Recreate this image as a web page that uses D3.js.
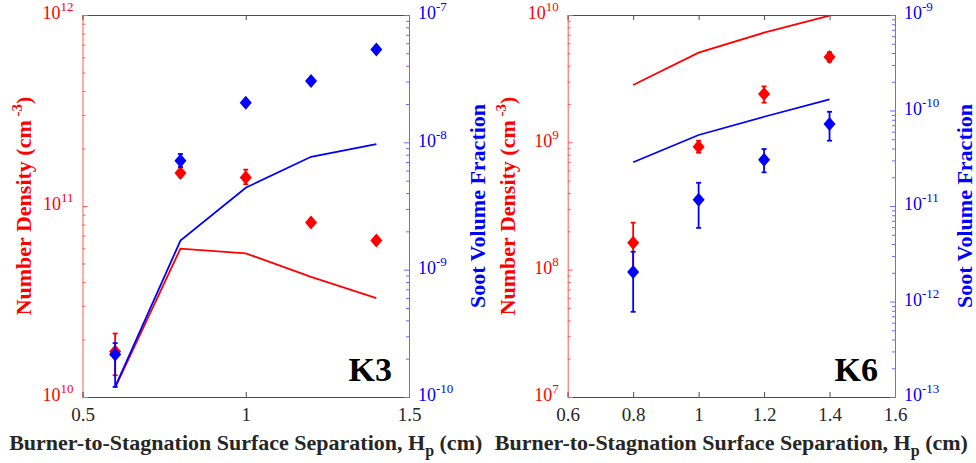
<!DOCTYPE html>
<html>
<head>
<meta charset="utf-8">
<script src="https://cdn.jsdelivr.net/npm/d3@7"></script>
<style>
  body { margin: 0; background: #fff; }
  svg text { font-family: "Liberation Serif", "Times New Roman", serif; }
</style>
</head>
<body>
<div id="chart"></div>
<script>
var canvasWidth = 976;
var canvasHeight = 463;

/*K3 flame data*/
var xK3 = [0.6, 0.8, 1.0, 1.2, 1.4];
var k3NumExp = [1.73e10, 1.49e11, 1.41e11, 8.2e10, 6.6e10];
var k3NumLo = [1.3e10, 1.42e11, 1.3e11, 7.9e10, 6.4e10];
var k3NumHi = [2.15e10, 1.6e11, 1.55e11, 8.5e10, 6.8e10];
var k3NumModel = [1.12e10, 5.98e10, 5.65e10, 4.26e10, 3.29e10];
var k3FvExp = [2.16e-10, 7.18e-9, 2.05e-8, 3.03e-8, 5.37e-8];
var k3FvLo = [1.2e-10, 6.4e-9, 1.95e-8, 2.9e-8, 5.2e-8];
var k3FvHi = [2.65e-10, 8.1e-9, 2.15e-8, 3.15e-8, 5.5e-8];
var k3FvModel = [1.2e-10, 1.69e-9, 4.4e-9, 7.7e-9, 9.7e-9];

/*K6 flame data*/
var xK6 = [0.8, 1.0, 1.2, 1.4];
var k6NumExp = [1.63e8, 9.25e8, 2.4e9, 4.68e9];
var k6NumLo = [1.0e8, 8.3e8, 2.05e9, 4.3e9];
var k6NumHi = [2.34e8, 1.03e9, 2.75e9, 5.1e9];
var k6NumModel = [2.82e9, 5.06e9, 7.26e9, 9.9e9];
var k6FvExp = [2.04e-12, 1.16e-11, 3.05e-11, 7.22e-11];
var k6FvLo = [7.8e-13, 5.9e-12, 2.25e-11, 4.83e-11];
var k6FvHi = [3.32e-12, 1.75e-11, 3.95e-11, 9.7e-11];
var k6FvModel = [2.87e-11, 5.54e-11, 8.6e-11, 1.31e-10];

/*Axis ticks*/
var k3XTicks = [0.5, 1, 1.5];
var k6XTicks = [0.6, 0.8, 1, 1.2, 1.4, 1.6];
var k3NumExps = [10, 11, 12];
var k3FvExps = [-10, -9, -8, -7];
var k6NumExps = [7, 8, 9, 10];
var k6FvExps = [-13, -12, -11, -10, -9];

var RED = "#ff0000";
var BLUE = "#0000ff";
var INK = "#262626";
var SERIF = "Liberation Serif, Times New Roman, serif";

var svg = d3.select("#chart").append("svg")
    .attr("width", canvasWidth)
    .attr("height", canvasHeight)
    .attr("font-family", SERIF);

/*Diamond marker, a bit wider than d3's own*/
var diamondType = {
    draw: function (ctx) {
        ctx.moveTo(0, -7);
        ctx.lineTo(6, 0);
        ctx.lineTo(0, 7);
        ctx.lineTo(-6, 0);
        ctx.closePath();
    }
};

function minorTicks(exps) {
    var out = [];
    for (var i = 0; i < exps.length - 1; i++) {
        for (var m = 2; m <= 9; m++) out.push(m * Math.pow(10, exps[i]));
    }
    return out;
}

function powerLabels(axisG, color) {
    axisG.selectAll(".tick text").each(function (d) {
        var t = d3.select(this);
        var e = Math.round(Math.log10(d));
        t.text(null).attr("fill", color).attr("font-size", 18).attr("dy", "0.32em")
            .attr("font-family", SERIF);
        t.append("tspan").text("10").attr("dy", "0.22em");
        t.append("tspan").text(e).attr("font-size", 13).attr("dy", "-0.62em");
    });
}

function drawPanel(p) {
    var g = svg.append("g");
    var x = d3.scaleLinear().domain(p.xDomain).range([p.left, p.right]);
    var yL = d3.scaleLog().domain(p.leftDomain).range([p.bottom, p.top]);
    var yR = d3.scaleLog().domain(p.rightDomain).range([p.bottom, p.top]);

    /*x axis bottom with labels, top without*/
    var xb = g.append("g")
        .attr("transform", "translate(0," + p.bottom + ")")
        .call(d3.axisBottom(x).tickValues(p.xTicks).tickSize(-5).tickPadding(11)
            .tickFormat(function (d) { return d; }))
        .attr("font-family", SERIF);
    xb.select(".domain").attr("stroke", "#4d4d4d");
    xb.selectAll(".tick line").attr("stroke", "#4d4d4d");
    xb.selectAll(".tick text").attr("fill", INK).attr("font-size", 19).attr("font-family", SERIF);

    var xt = g.append("g")
        .attr("transform", "translate(0," + p.top + ")")
        .call(d3.axisTop(x).tickValues(p.xTicks).tickSize(-5).tickFormat(""));
    xt.select(".domain").attr("stroke", "#4d4d4d");
    xt.selectAll(".tick line").attr("stroke", "#4d4d4d");

    /*left log axis*/
    var leftMajor = p.leftExps.map(function (e) { return Math.pow(10, e); });
    var la = g.append("g")
        .attr("transform", "translate(" + p.left + ",0)")
        .call(d3.axisLeft(yL).tickValues(leftMajor).tickSize(-5).tickPadding(9))
        .attr("font-family", SERIF);
    la.select(".domain").attr("stroke", "#ff5a5a");
    la.selectAll(".tick line").attr("stroke", "#ff5a5a");
    powerLabels(la, RED);
    var lm = g.append("g")
        .attr("transform", "translate(" + p.left + ",0)")
        .call(d3.axisLeft(yL).tickValues(minorTicks(p.leftExps)).tickSize(-3).tickFormat(""));
    lm.select(".domain").remove();
    lm.selectAll(".tick line").attr("stroke", "#ff5a5a");

    /*right log axis*/
    var rightMajor = p.rightExps.map(function (e) { return Math.pow(10, e); });
    var ra = g.append("g")
        .attr("transform", "translate(" + p.right + ",0)")
        .call(d3.axisRight(yR).tickValues(rightMajor).tickSize(-5).tickPadding(9))
        .attr("font-family", SERIF);
    ra.select(".domain").attr("stroke", "#6a6aff");
    ra.selectAll(".tick line").attr("stroke", "#6a6aff");
    powerLabels(ra, BLUE);
    var rm = g.append("g")
        .attr("transform", "translate(" + p.right + ",0)")
        .call(d3.axisRight(yR).tickValues(minorTicks(p.rightExps)).tickSize(-3).tickFormat(""));
    rm.select(".domain").remove();
    rm.selectAll(".tick line").attr("stroke", "#6a6aff");

    /*series: red number density on left axis, blue soot fraction on right*/
    var series = [
        {y: yL, xs: p.xs, exp: p.numExp, lo: p.numLo, hi: p.numHi, model: p.numModel, color: RED},
        {y: yR, xs: p.xs, exp: p.fvExp, lo: p.fvLo, hi: p.fvHi, model: p.fvModel, color: BLUE}
    ];
    series.forEach(function (s) {
        var line = d3.line()
            .x(function (d, i) { return x(s.xs[i]); })
            .y(function (d) { return s.y(d); });
        g.append("path")
            .attr("d", line(s.model))
            .attr("fill", "none")
            .attr("stroke", s.color)
            .attr("stroke-width", 1.8);
    });
    series.forEach(function (s) {
        var idx = d3.range(s.xs.length);
        var eb = g.append("g").attr("stroke", s.color).attr("stroke-width", 1.8);
        eb.selectAll(".v").data(idx).join("line")
            .attr("x1", function (i) { return x(s.xs[i]); })
            .attr("x2", function (i) { return x(s.xs[i]); })
            .attr("y1", function (i) { return s.y(s.lo[i]); })
            .attr("y2", function (i) { return s.y(s.hi[i]); });
        [s.lo, s.hi].forEach(function (arr) {
            eb.selectAll(null).data(idx).join("line")
                .attr("x1", function (i) { return x(s.xs[i]) - 2.5; })
                .attr("x2", function (i) { return x(s.xs[i]) + 2.5; })
                .attr("y1", function (i) { return s.y(arr[i]); })
                .attr("y2", function (i) { return s.y(arr[i]); });
        });
        g.selectAll(null).data(idx).join("path")
            .attr("d", d3.symbol().type(diamondType))
            .attr("transform", function (i) {
                return "translate(" + x(s.xs[i]) + "," + s.y(s.exp[i]) + ")";
            })
            .attr("fill", s.color);
    });

    /*flame name*/
    g.append("text")
        .attr("x", p.right - 17)
        .attr("y", p.bottom - 16)
        .attr("text-anchor", "end")
        .attr("font-size", 34)
        .attr("font-weight", "bold")
        .attr("fill", "#000")
        .text(p.name);

    /*axis titles*/
    var midY = (p.top + p.bottom) / 2;
    var lt = g.append("text")
        .attr("transform", "translate(" + p.leftTitleX + "," + midY + ") rotate(-90)")
        .attr("text-anchor", "middle")
        .attr("font-size", 22)
        .attr("font-weight", "bold")
        .attr("fill", RED);
    lt.append("tspan").text("Number Density (cm");
    lt.append("tspan").text(" -3").attr("font-size", 15).attr("dy", -9);
    lt.append("tspan").text(")").attr("dy", 9);

    g.append("text")
        .attr("transform", "translate(" + p.rightTitleX + "," + midY + ") rotate(-90)")
        .attr("text-anchor", "middle")
        .attr("font-size", 22)
        .attr("font-weight", "bold")
        .attr("fill", BLUE)
        .text("Soot Volume Fraction");

    var xtTitle = g.append("text")
        .attr("x", (p.left + p.right) / 2)
        .attr("y", 450)
        .attr("text-anchor", "middle")
        .attr("font-size", 22)
        .attr("font-weight", "bold")
        .attr("fill", INK);
    xtTitle.append("tspan").text("Burner-to-Stagnation Surface Separation, H");
    xtTitle.append("tspan").text("p").attr("font-size", 16).attr("dy", 6);
    xtTitle.append("tspan").text(" (cm)").attr("dy", -6);
}

drawPanel({
    name: "K3", left: 82.5, right: 409, top: 15, bottom: 397,
    xDomain: [0.5, 1.5], xTicks: k3XTicks,
    leftDomain: [1e10, 1e12], leftExps: k3NumExps,
    rightDomain: [1e-10, 1e-7], rightExps: k3FvExps,
    xs: xK3,
    numExp: k3NumExp, numLo: k3NumLo, numHi: k3NumHi, numModel: k3NumModel,
    fvExp: k3FvExp, fvLo: k3FvLo, fvHi: k3FvHi, fvModel: k3FvModel,
    leftTitleX: 31, rightTitleX: 485
});

drawPanel({
    name: "K6", left: 567.7, right: 895, top: 15, bottom: 397,
    xDomain: [0.6, 1.6], xTicks: k6XTicks,
    leftDomain: [1e7, 1e10], leftExps: k6NumExps,
    rightDomain: [1e-13, 1e-9], rightExps: k6FvExps,
    xs: xK6,
    numExp: k6NumExp, numLo: k6NumLo, numHi: k6NumHi, numModel: k6NumModel,
    fvExp: k6FvExp, fvLo: k6FvLo, fvHi: k6FvHi, fvModel: k6FvModel,
    leftTitleX: 515, rightTitleX: 972
});
</script>
</body>
</html>
